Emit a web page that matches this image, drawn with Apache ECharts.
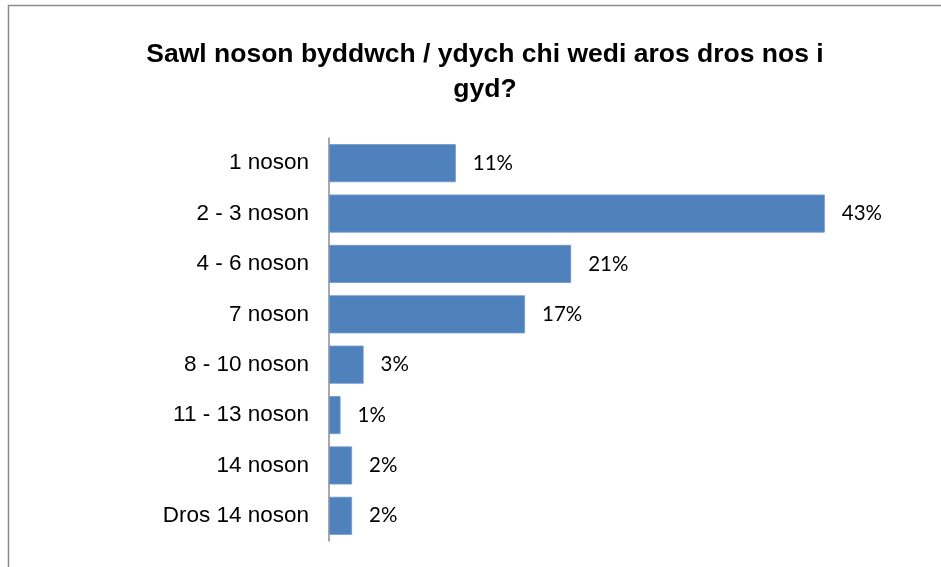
<!DOCTYPE html>
<html><head><meta charset="utf-8">
<script src="https://cdn.jsdelivr.net/npm/echarts@6/dist/echarts.min.js"></script>
<style>html,body{margin:0;padding:0;background:#fff}#c{width:941px;height:567px}</style>
</head><body><div id="c"></div>
<script>
var categories = ['1 noson','2 - 3 noson','4 - 6 noson','7 noson','8 - 10 noson','11 - 13 noson','14 noson','Dros 14 noson'];
var values = [11, 43, 21, 17, 3, 1, 2, 2];
var titleText = 'Sawl noson byddwch / ydych chi wedi aros dros nos i\ngyd?';

var chart = echarts.init(document.getElementById('c'), null, {renderer:'canvas'});
chart.setOption({
  animation: false,
  backgroundColor: '#fff',
  graphic: [{
    type: 'rect', shape: {x: 8.5, y: 5.5, width: 1000, height: 700},
    style: {fill: 'none', stroke: '#8c8c8c', lineWidth: 1.5}, silent: true
  }],
  title: {
    text: titleText, left: 480, top: 32, textAlign: 'center',
    textStyle: {fontFamily: 'Liberation Sans, Arial', fontSize: 26.5, fontWeight: 'bold', color: '#000', lineHeight: 35}
  },
  grid: {left: 329, right: 35.5, top: 138, bottom: 26, containLabel: false},
  xAxis: {type: 'value', min: 0, max: 50, show: false},
  yAxis: {
    type: 'category', data: categories, inverse: true,
    axisLine: {show: true, lineStyle: {color: '#8c8c8c', width: 1.5}},
    axisTick: {show: false},
    axisLabel: {margin: 20, color: '#000', fontFamily: 'Liberation Sans, Arial', fontSize: 22.5}
  },
  series: [{
    type: 'bar', data: values, barWidth: 38,
    itemStyle: {color: '#4F81BD', borderColor: '#7097C9', borderWidth: 0.8},
    label: {show: true, position: 'right', distance: 17, formatter: '{c}%', color: '#000', fontFamily: 'Lato, Carlito, sans-serif', fontSize: 20.5}
  }]
});
</script></body></html>
